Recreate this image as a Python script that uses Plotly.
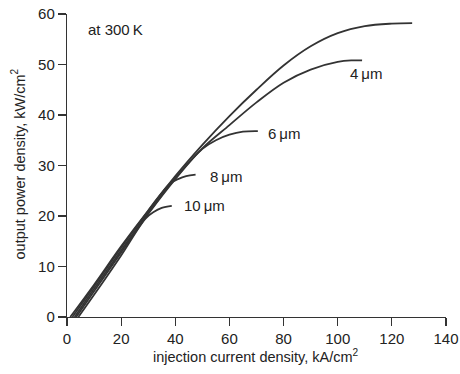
import plotly.graph_objects as go

# Curves: output power density (kW/cm^2) vs injection current density (kA/cm^2)
top_x = [2, 10, 20, 30, 40, 50, 60, 70, 80, 90, 100, 110, 120, 127.5]
top_y = [0, 6.1, 13.7, 21.0, 27.9, 34.1, 39.8, 45.0, 49.8, 53.6, 56.2, 57.6, 58.1, 58.2]

w4_x = [2.8, 10, 20, 30, 40, 50, 60, 70, 80, 90, 100, 105, 109]
w4_y = [0, 5.6, 13.2, 20.6, 27.5, 33.4, 38.0, 42.5, 46.4, 49.0, 50.5, 50.8, 50.8]

w6_x = [3.4, 10, 20, 30, 40, 50, 55, 60, 65, 70.5]
w6_y = [0, 5.1, 12.8, 20.4, 27.3, 33.3, 35.0, 36.1, 36.7, 36.8]

w8_x = [1.2, 10, 20, 30, 38, 41, 44, 47.5]
w8_y = [0, 6.4, 14.0, 21.1, 26.4, 27.3, 27.9, 28.2]

w10_x = [4.2, 10, 20, 29, 32, 35, 38.7]
w10_y = [0, 4.4, 12.2, 19.5, 20.8, 21.6, 22.0]

series = [(top_x, top_y), (w4_x, w4_y), (w6_x, w6_y), (w8_x, w8_y), (w10_x, w10_y)]

labels = ["4\u2009μm", "6\u2009μm", "8\u2009μm", "10\u2009μm", "at 300\u2009K"]
label_x = [103.8, 73.5, 52.1, 42.6, 7.1]
label_y = [48.3, 36.4, 27.9, 22.0, 57.0]

x_ticks = [0, 20, 40, 60, 80, 100, 120, 140]
y_ticks = [0, 10, 20, 30, 40, 50, 60]

x_title = "injection current density, kA/cm<sup>2</sup>"
y_title = "output power density, kW/cm<sup>2</sup>"

FONT = "Liberation Sans, Arial, Helvetica, sans-serif"
INK = "#333333"
TXT = "#222222"

fig = go.Figure()
for xs, ys in series:
    fig.add_trace(go.Scatter(
        x=xs, y=ys, mode="lines",
        line=dict(color=INK, width=1.8, shape="spline", smoothing=1.0),
        showlegend=False, cliponaxis=False, hoverinfo="skip",
    ))

for t, xv, yv in zip(labels, label_x, label_y):
    fig.add_annotation(x=xv, y=yv, text=t, showarrow=False,
                       xanchor="left", yanchor="middle",
                       font=dict(family=FONT, size=15, color=TXT))

# axis titles as paper-anchored annotations
fig.add_annotation(xref="paper", yref="paper", x=0.499, y=-0.128,
                   text=x_title, showarrow=False, xanchor="center", yanchor="middle",
                   font=dict(family=FONT, size=14.5, color=TXT))
fig.add_annotation(xref="paper", yref="paper", x=-0.128, y=0.505,
                   text=y_title, showarrow=False, xanchor="center", yanchor="middle",
                   textangle=-90,
                   font=dict(family=FONT, size=14.5, color=TXT))

axis_common = dict(
    showline=True, linecolor=INK, linewidth=1.2,
    ticks="outside", ticklen=8, tickwidth=1.2, tickcolor=INK,
    showgrid=False, zeroline=False, automargin=False,
    tickfont=dict(family=FONT, size=15, color=TXT),
)

fig.update_xaxes(range=[0, 140], tickvals=x_ticks, **axis_common)
fig.update_yaxes(range=[0, 60], tickvals=y_ticks, **axis_common)

fig.update_layout(
    width=460, height=374,
    margin=dict(l=67, r=14, t=14, b=57),
    paper_bgcolor="white", plot_bgcolor="white",
)

# remove the default page margin so the figure fills the window exactly
fig.write_html(
    "out.html",
    config={"displayModeBar": False, "staticPlot": True},
    post_script=("document.body.style.margin='0';"
                 "document.body.style.overflow='hidden';"
                 "document.documentElement.style.overflow='hidden';"),
)
